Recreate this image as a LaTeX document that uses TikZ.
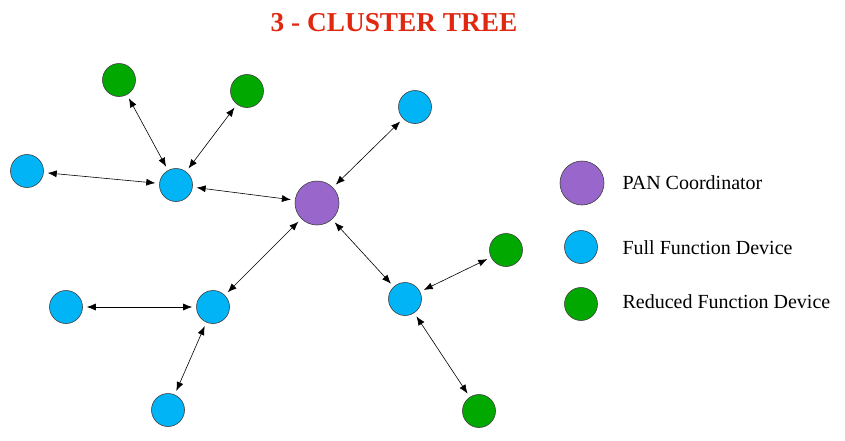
\documentclass[tikz,border=0pt]{standalone}
\usepackage{fontspec}
\setmainfont{Liberation Serif}
\usetikzlibrary{arrows.meta, positioning}
\definecolor{tim}{RGB}{153,102,204}
\definecolor{xanh}{RGB}{0,180,245}
\definecolor{luc}{RGB}{0,168,0}
\definecolor{dotuoi}{RGB}{224,40,16}
\tikzset{
  pan/.style={circle, draw=black!75, line width=0.6pt, fill=tim, minimum size=44pt, inner sep=0pt},
  ffd/.style={circle, draw=black!75, line width=0.6pt, fill=xanh, minimum size=33pt, inner sep=0pt},
  rfd/.style={circle, draw=black!75, line width=0.6pt, fill=luc, minimum size=33pt, inner sep=0pt},
  chu/.style={anchor=west, font=\fontsize{20}{23}\selectfont}
}
\newcommand{\noi}{\draw[<->, line width=0.6pt, shorten >=4pt, shorten <=4pt]}

\begin{document}
\begin{tikzpicture}[x=1pt, y=-1pt, >={Latex[length=9pt,width=7pt]}]
\useasboundingbox (0,0) rectangle (845,440);
% Tiêu đề
\node[text=dotuoi, font=\fontsize{27.3}{30}\selectfont\bfseries] (tieude) at (394,23) {3 - CLUSTER TREE};

% Các nút mạng
\node[pan] (pc) at (317,203) {};
\node[ffd] (ftren) at (415,107) {};
\node[ffd] (fa) at (176,185) {};
\node[ffd] (fa1) at (27,171) {};
\node[rfd] (ra1) at (119,80) {};
\node[rfd] (ra2) at (247,91) {};
\node[ffd] (fb) at (213,307) {};
\node[ffd] (fb1) at (66,307) {};
\node[ffd] (fb2) at (168,410) {};
\node[ffd] (fc) at (405,299) {};
\node[rfd] (rc1) at (506,250) {};
\node[rfd] (rc2) at (479,411) {};

% Liên kết
\noi (pc) -- (ftren);
\noi (pc) -- (fa);
\noi (pc) -- (fb);
\noi (pc) -- (fc);
\noi (fa) -- (fa1);
\noi (fa) -- (ra1);
\noi (fa) -- (ra2);
\noi (fb) -- (fb1);
\noi (fb) -- (fb2);
\noi (fc) -- (rc1);
\noi (fc) -- (rc2);

% Chú thích
\node[pan] (lpan) at (582,183) {};
\node[ffd] (lffd) at (581,247) {};
\node[rfd] (lrfd) at (581,304) {};
\node[chu] (tpan) at (619,183) {PAN Coordinator};
\node[chu] (tffd) at (619,248) {Full Function Device};
\node[chu] (trfd) at (619,302) {Reduced Function Device};
\end{tikzpicture}
\end{document}
